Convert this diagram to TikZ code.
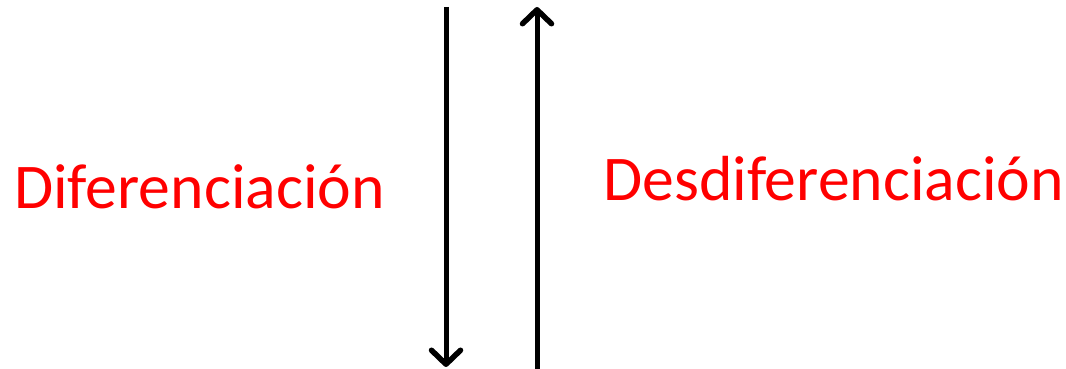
\documentclass[tikz,border=0pt]{standalone}
\usepackage{fontspec}
\setmainfont{Carlito}
\usetikzlibrary{arrows.meta}
\definecolor{labred}{RGB}{255,0,0}
\tikzset{
  flow/.style={line width=5pt, -{Straight Barb[length=14pt,width=29pt,line width=5.5pt,round]}},
  lbl/.style={text=labred, font=\fontsize{63.7}{70}\selectfont, inner sep=0pt, anchor=base west}
}
\begin{document}
\begin{tikzpicture}[x=1pt,y=1pt]
\useasboundingbox (0,0) rectangle (1066,369);
\coordinate (dtop) at (446,362);
\coordinate (dbot) at (446,2);
\coordinate (ubot) at (537,0);
\coordinate (utop) at (537,362);
\draw[flow] (dtop) -- (dbot);
\draw[flow] (ubot) -- (utop);
\node[lbl] (dif) at (14,160) {Diferenciación};
\node[lbl] (des) at (603,168) {Desdiferenciación};
\end{tikzpicture}
\end{document}
